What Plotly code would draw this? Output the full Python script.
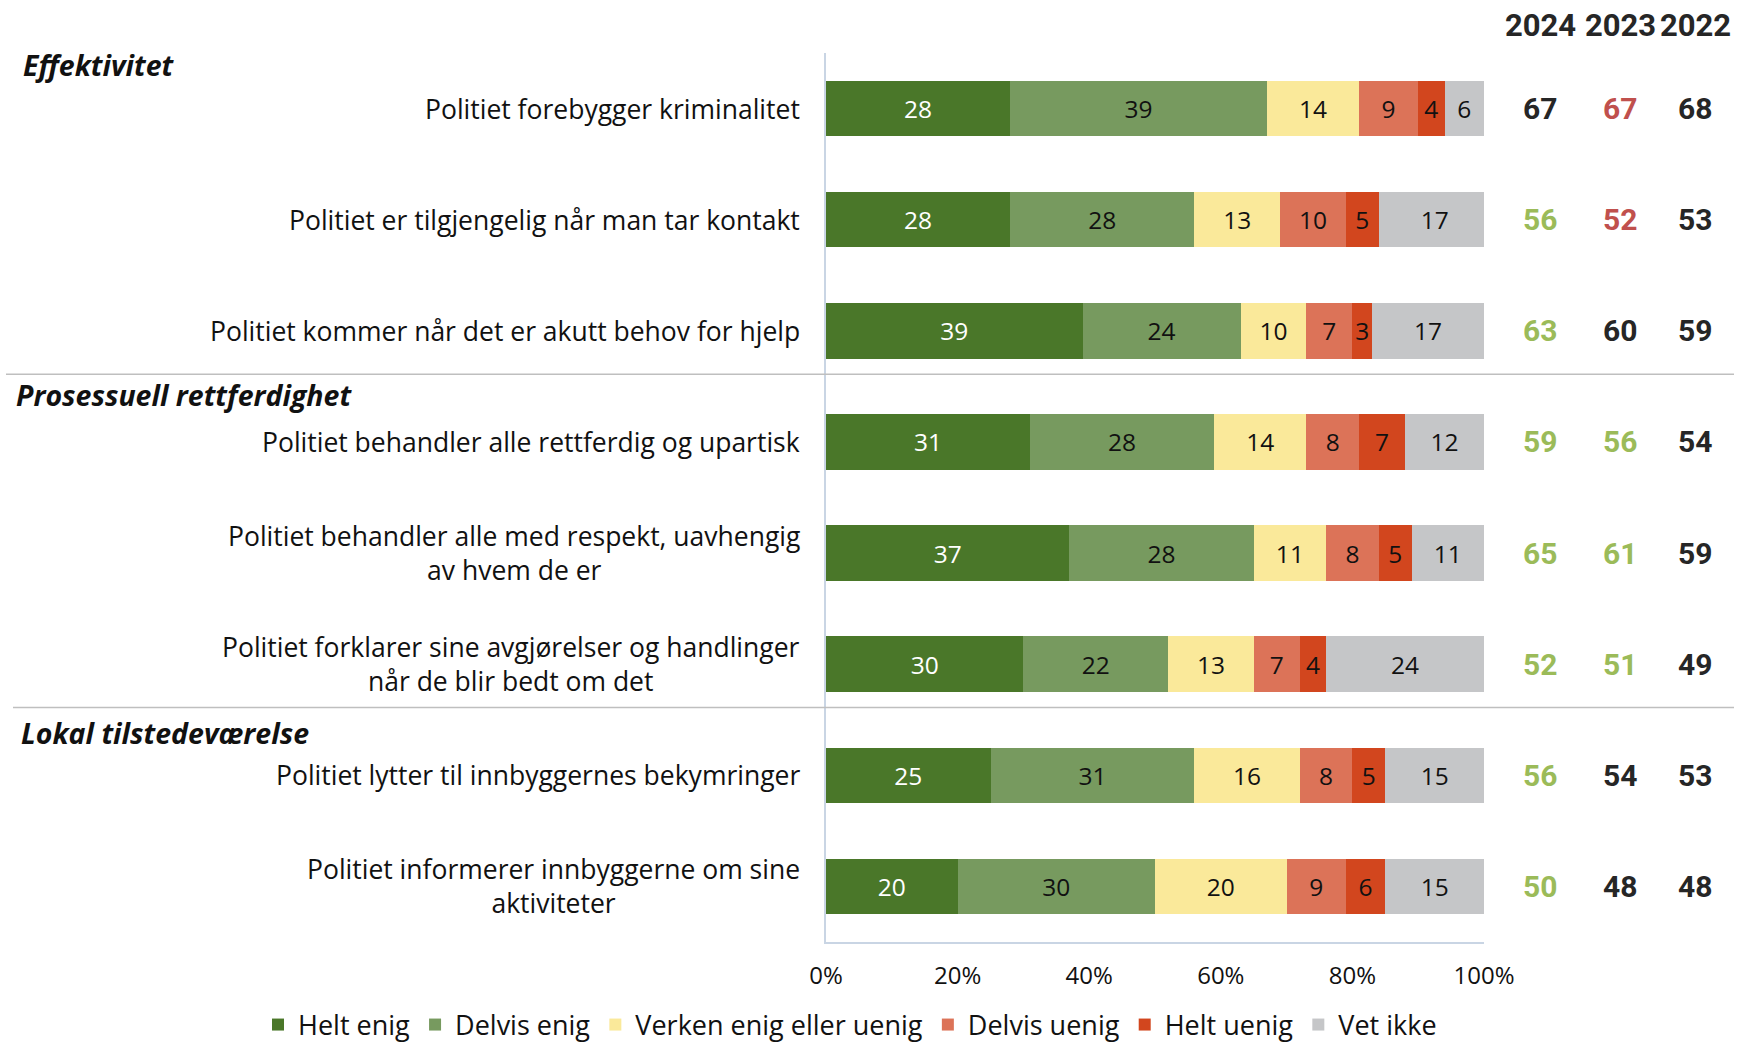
import plotly.graph_objects as go

categories = [
    "Politiet forebygger kriminalitet",
    "Politiet er tilgjengelig når man tar kontakt",
    "Politiet kommer når det er akutt behov for hjelp",
    "Politiet behandler alle rettferdig og upartisk",
    "Politiet behandler alle med respekt, uavhengig<br>av hvem de er",
    "Politiet forklarer sine avgjørelser og handlinger<br>når de blir bedt om det",
    "Politiet lytter til innbyggernes bekymringer",
    "Politiet informerer innbyggerne om sine<br>aktiviteter",
]
series_names = ["Helt enig", "Delvis enig", "Verken enig eller uenig",
                "Delvis uenig", "Helt uenig", "Vet ikke"]
helt_enig = [28, 28, 39, 31, 37, 30, 25, 20]
delvis_enig = [39, 28, 24, 28, 28, 22, 31, 30]
verken = [14, 13, 10, 14, 11, 13, 16, 20]
delvis_uenig = [9, 10, 7, 8, 8, 7, 8, 9]
helt_uenig = [4, 5, 3, 7, 5, 4, 5, 6]
vet_ikke = [6, 17, 17, 12, 11, 24, 15, 15]

tick_vals = [0, 20, 40, 60, 80, 100]
tick_text = ["0%", "20%", "40%", "60%", "80%", "100%"]

years = ["2024", "2023", "2022"]
val_2024 = [67, 56, 63, 59, 65, 52, 56, 50]
val_2023 = [67, 52, 60, 56, 61, 51, 54, 48]
val_2022 = [68, 53, 59, 54, 59, 49, 53, 48]
# colour codes: b = black, g = green (higher), r = red (lower)
col_2024 = ["b", "g", "g", "g", "g", "g", "g", "g"]
col_2023 = ["r", "r", "b", "g", "g", "g", "b", "b"]
col_2022 = ["b", "b", "b", "b", "b", "b", "b", "b"]

sections = ["Effektivitet", "Prosessuell rettferdighet", "Lokal tilstedeværelse"]
section_pos = [-0.39, 2.58, 5.62]
separator_pos = [2.39, 5.39]

colors = ["#4A7729", "#779A5F", "#FAE99A", "#DC7358", "#D2461E", "#C5C6C8"]
text_colors = ["white", "#111111", "#111111", "#111111", "#111111", "#111111"]
FONT = "Open Sans"

W, H = 1737, 1045
L, R, T, B = 826, 1737 - 1484, 53, 1045 - 942
pw = W - L - R
ph = H - T - B


def px2paper(px):
    return (px - L) / pw


ys = list(range(len(categories)))
fig = go.Figure()
for name, vals, c, tc in zip(series_names,
                             [helt_enig, delvis_enig, verken, delvis_uenig, helt_uenig, vet_ikke],
                             colors, text_colors):
    fig.add_trace(go.Bar(
        name=name, x=vals, y=ys, orientation="h",
        marker=dict(color=c, line=dict(width=0)),
        text=[str(v) for v in vals], textposition="inside",
        insidetextanchor="middle", textangle=0, constraintext="none",
        textfont=dict(family=FONT, size=24.5, color=tc),
        width=0.5, hoverinfo="x+name",
    ))

annotations = []
for y, cat in zip(ys, categories):
    annotations.append(dict(
        x=px2paper(802), y=y, xref="paper", yref="y", text=cat,
        showarrow=False, xanchor="right", yanchor="middle", align="center",
        font=dict(family=FONT, size=26.5, color="#111111")))

col_map = {"b": "#262626", "g": "#9BBB59", "r": "#C0504D"}
col_x = [1540, 1620, 1695]
for yr, vals, cols, cx in zip(years, [val_2024, val_2023, val_2022],
                              [col_2024, col_2023, col_2022], col_x):
    annotations.append(dict(
        x=px2paper(cx), y=(T - 25) / ph + 1, xref="paper", yref="paper",
        text=f"<b>{yr}</b>", showarrow=False, xanchor="center", yanchor="middle",
        font=dict(family="Roboto", size=31, color="#262626")))
    for y, v, c in zip(ys, vals, cols):
        annotations.append(dict(
            x=px2paper(cx), y=y, xref="paper", yref="y", text=f"<b>{v}</b>",
            showarrow=False, xanchor="center", yanchor="middle",
            font=dict(family="Roboto", size=30, color=col_map[c])))

sec_x = [21, 14, 19]
for s, p, sx in zip(sections, section_pos, sec_x):
    annotations.append(dict(
        x=px2paper(sx), y=p, xref="paper", yref="y", text=f"<b><i>{s}</i></b>",
        showarrow=False, xanchor="left", yanchor="middle",
        font=dict(family=FONT, size=28.5, color="#111111")))

shapes = []
sep_left = [6, 13]
for p, lx in zip(separator_pos, sep_left):
    shapes.append(dict(type="line", xref="paper", yref="y",
                       x0=px2paper(lx), x1=px2paper(1734), y0=p, y1=p,
                       line=dict(color="#BFBFBF", width=1.5)))

fig.update_layout(
    width=W, height=H,
    margin=dict(l=L, r=R, t=T, b=B, autoexpand=False),
    barmode="stack", bargap=0.5,
    plot_bgcolor="white", paper_bgcolor="white",
    font=dict(family=FONT, size=24, color="#111111"),
    annotations=annotations, shapes=shapes,
    legend=dict(orientation="h", xref="paper", yref="paper",
                x=px2paper(258), xanchor="left",
                y=-(1025 - (H - B)) / ph, yanchor="middle",
                font=dict(family=FONT, size=27, color="#111111"),
                itemwidth=30, tracegroupgap=0, traceorder="normal"),
    showlegend=True,
)
fig.update_xaxes(range=[0, 100], tickmode="array", tickvals=tick_vals, ticktext=tick_text,
                 showgrid=False, zeroline=False, showline=True, linecolor="#C9D5E4",
                 linewidth=2, ticks="", ticklabelstandoff=11,
                 tickfont=dict(family=FONT, size=24, color="#111111"))
fig.update_yaxes(range=[7.5, -0.5], showticklabels=False, showgrid=False,
                 zeroline=False, showline=True, linecolor="#C9D5E4", linewidth=2,
                 ticks="")

fig.write_html("out.html", config={"displayModeBar": False},
               post_script="document.body.style.margin='0';")
